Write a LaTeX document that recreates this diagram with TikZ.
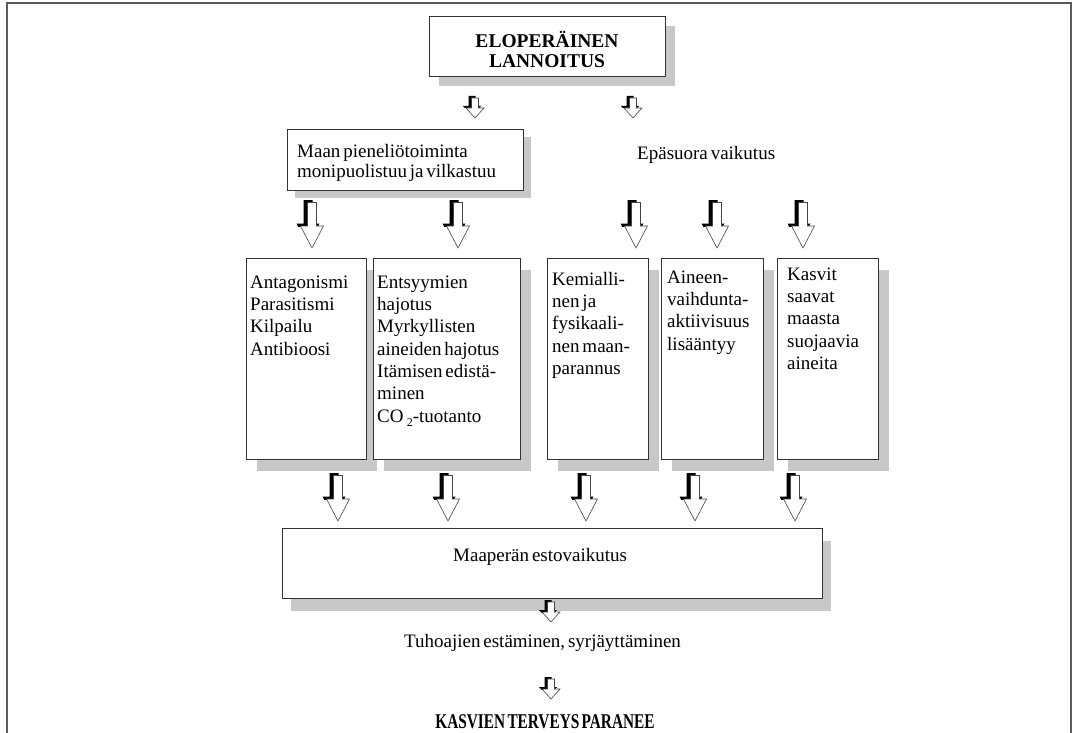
\documentclass[tikz,border=0pt]{standalone}
\usepackage{fontspec}
\setmainfont{Liberation Serif}[WordSpace=0.6]
\usetikzlibrary{shadows}
\definecolor{shadowgray}{HTML}{C8C8C8}
\definecolor{framegray}{HTML}{5A5A5A}
\definecolor{boxline}{HTML}{333333}
\definecolor{arrowline}{HTML}{444444}
\tikzset{
  box/.style={draw=boxline, line width=1.2pt, fill=white, inner sep=0pt, anchor=north west},
  shadowbox/.style args={#1/#2}{box, drop shadow={shadow xshift=#1pt, shadow yshift=-#2pt, fill=shadowgray, opacity=1}},
  coltext/.style={font=\fontsize{19}{22.3}\selectfont, inner sep=0pt, align=left, anchor=north west},
  plaintext/.style={font=\fontsize{19}{20}\selectfont, inner sep=0pt},
  boldtext/.style={font=\bfseries\fontsize{19.5}{20}\selectfont, inner sep=0pt},
  bigarrow/.pic={
    \begin{scope}
      \clip (-20,-6) rectangle (20,23.5);
      \begin{scope}[shift={(-4,-2.5)}]
        \fill[black] (-4.5,0) -- (4.5,0) -- (4.5,23.5) -- (11.5,23.5) -- (0,45.5) -- (-11.5,23.5) -- (-4.5,23.5) -- cycle;
      \end{scope}
    \end{scope}
    \filldraw[fill=white, draw=arrowline, line width=0.6pt] (-4.5,0) -- (4.5,0) -- (4.5,23.5) -- (11.5,23.5) -- (0,45.5) -- (-11.5,23.5) -- (-4.5,23.5) -- cycle;
  },
  smallarrow/.pic={
    \begin{scope}
      \clip (-15,-6) rectangle (15,10);
      \begin{scope}[shift={(-3,-2)}]
        \fill[black] (-3.5,0) -- (3.5,0) -- (3.5,10) -- (9,10) -- (0,20) -- (-9,10) -- (-3.5,10) -- cycle;
      \end{scope}
    \end{scope}
    \filldraw[fill=white, draw=arrowline, line width=0.6pt] (-3.5,0) -- (3.5,0) -- (3.5,10) -- (9,10) -- (0,20) -- (-9,10) -- (-3.5,10) -- cycle;
  }
}
\begin{document}
\begin{tikzpicture}[x=1pt, y=-1pt]
\useasboundingbox (0,0) rectangle (1076,733);
% frame
\coordinate (fbl) at (7,745);
\coordinate (ftl) at (7,3);
\coordinate (ftr) at (1071,3);
\coordinate (fbr) at (1071,745);
\draw[framegray, line width=2pt] (fbl) -- (ftl) -- (ftr) -- (fbr);

% top box
\node[shadowbox=9/9, minimum width=236pt, minimum height=60pt] (top) at (429,16) {};
\node[boldtext, align=center, anchor=north] (toptxt) at (547,31) {\strut ELOPERÄINEN\\LANNOITUS};

\pic at (475,98) {smallarrow};
\pic at (633,98) {smallarrow};

% second level
\node[shadowbox=7/7, minimum width=236pt, minimum height=61pt] (maan) at (287,129) {};
\node[plaintext, align=left, anchor=north west] (maantxt) at (297,143) {\strut Maan pieneliötoiminta\\monipuolistuu ja vilkastuu};
\node[plaintext, anchor=base west] (epa) at (637,159) {Epäsuora vaikutus};

% arrows row 1
\pic at (312,202.5) {bigarrow};
\pic at (458,202.5) {bigarrow};
\pic at (636,202.5) {bigarrow};
\pic at (717,202.5) {bigarrow};
\pic at (803,202.5) {bigarrow};

% column boxes
\node[shadowbox=10/11, minimum width=120pt, minimum height=201pt] (b1) at (246,258) {};
\node[shadowbox=10/11, minimum width=147pt, minimum height=201pt] (b2) at (373,258) {};
\node[shadowbox=10/11, minimum width=101pt, minimum height=201pt] (b3) at (547,258) {};
\node[shadowbox=10/11, minimum width=102pt, minimum height=201pt] (b4) at (661,258) {};
\node[shadowbox=10/11, minimum width=101pt, minimum height=201pt] (b5) at (777,258) {};

\node[coltext] (t1) at (250,272.5) {\strut Antagonismi\\Parasitismi\\Kilpailu\\Antibioosi};
\node[coltext] (t2) at (377,272.5) {\strut Entsyymien\\hajotus\\Myrkyllisten\\aineiden hajotus\\Itämisen edistä-\\minen\\CO\,\raisebox{-4pt}{\fontsize{12}{12}\selectfont 2}-tuotanto};
\node[coltext] (t3) at (552,269.5) {\strut Kemialli-\\nen ja\\fysikaali-\\nen maan-\\parannus};
\node[coltext] (t4) at (667,267.5) {\strut Aineen-\\vaihdunta-\\aktiivisuus\\lisääntyy};
\node[coltext] (t5) at (787,264.5) {\strut Kasvit\\saavat\\maasta\\suojaavia\\aineita};

% arrows row 2
\pic at (338,475.5) {bigarrow};
\pic at (448,475.5) {bigarrow};
\pic at (586,475.5) {bigarrow};
\pic at (695,475.5) {bigarrow};
\pic at (795,475.5) {bigarrow};

% bottom box
\node[shadowbox=8/12, minimum width=540pt, minimum height=70pt] (est) at (282,528) {};
\node[plaintext, anchor=base west] (esttxt) at (453,561) {Maaperän estovaikutus};

\pic at (551,602) {smallarrow};
\node[plaintext, anchor=base west] (tuho) at (404,647) {Tuhoajien estäminen, syrjäyttäminen};
\pic at (551,679) {smallarrow};
\node[font=\bfseries\fontsize{21}{22}\selectfont, inner sep=0pt, anchor=base] (kasv) at (545,728) {\scalebox{0.73}[1]{KASVIEN TERVEYS PARANEE}};
\end{tikzpicture}
\end{document}
